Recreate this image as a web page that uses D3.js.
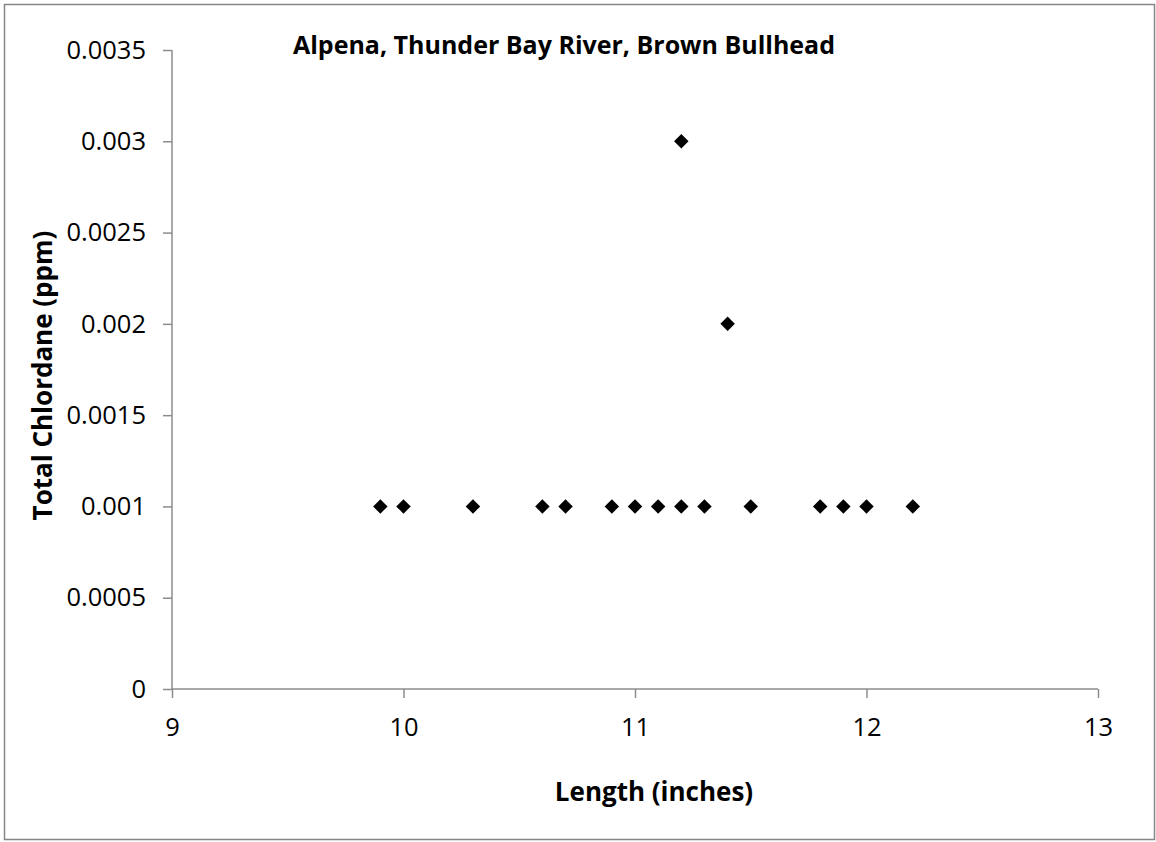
<!DOCTYPE html>
<html>
<head>
<meta charset="utf-8">
<script src="https://cdn.jsdelivr.net/npm/d3@7"></script>
<style>
  body { margin: 0; background: #fff; }
</style>
</head>
<body>
<div id="chart"></div>
<script>
// length (inches) and total chlordane (ppm)
var lengths = [9.9, 10, 10.3, 10.6, 10.7, 10.9, 11, 11.1, 11.2, 11.3, 11.5, 11.8, 11.9, 12, 12.2, 11.2, 11.4];
var chlordane = [0.001, 0.001, 0.001, 0.001, 0.001, 0.001, 0.001, 0.001, 0.001, 0.001, 0.001, 0.001, 0.001, 0.001, 0.001, 0.003, 0.002];
var xTicks = [9, 10, 11, 12, 13];
var yTicks = [0, 0.0005, 0.001, 0.0015, 0.002, 0.0025, 0.003, 0.0035];

var W = 1156, H = 842;
var margin = {top: 50, right: 58, bottom: 153, left: 172};
var FONT = "'Open Sans', 'Liberation Sans', sans-serif";

var svg = d3.select("#chart").append("svg")
    .attr("width", W)
    .attr("height", H);

// outer chart border
svg.append("rect")
    .attr("x", 4.5).attr("y", 4.5)
    .attr("width", W - 6).attr("height", H - 7)
    .attr("fill", "#fff")
    .attr("stroke", "#868686")
    .attr("stroke-width", 1.5);

var x = d3.scaleLinear().domain([9, 13]).range([margin.left, W - margin.right]);
var y = d3.scaleLinear().domain([0, 0.0035]).range([H - margin.bottom, margin.top]);

var yAxis = svg.append("g")
    .attr("transform", "translate(" + margin.left + ",0)")
    .call(d3.axisLeft(y).tickValues(yTicks).tickSize(9).tickPadding(17)
        .tickFormat(function(d) { return d === 0 ? "0" : String(+d.toFixed(4)); }));

var xAxis = svg.append("g")
    .attr("transform", "translate(0," + (H - margin.bottom) + ")")
    .call(d3.axisBottom(x).tickValues(xTicks).tickSize(9).tickPadding(20)
        .tickFormat(d3.format("d")));

[xAxis, yAxis].forEach(function(a) {
  a.attr("font-family", FONT).attr("font-size", 25.5);
  a.selectAll("line").attr("stroke", "#8c8c8c").attr("stroke-width", 1.5);
  a.selectAll("path").remove();
  a.selectAll("text").attr("fill", "#000");
});
// axis lines without end ticks
svg.append("line")
    .attr("x1", margin.left).attr("x2", margin.left)
    .attr("y1", y(0.0035)).attr("y2", y(0))
    .attr("stroke", "#8c8c8c").attr("stroke-width", 1.5);
svg.append("line")
    .attr("x1", x(9)).attr("x2", x(13))
    .attr("y1", y(0)).attr("y2", y(0))
    .attr("stroke", "#8c8c8c").attr("stroke-width", 1.5);

// diamond markers
var diamond = d3.symbol().type(d3.symbolSquare).size(105);
svg.append("g").selectAll("path")
    .data(lengths.map(function(d, i) { return {x: d, y: chlordane[i]}; }))
    .enter().append("path")
    .attr("d", diamond)
    .attr("transform", function(d) {
      return "translate(" + x(d.x) + "," + y(d.y) + ") rotate(45)";
    })
    .attr("fill", "#000");

// title
svg.append("text")
    .attr("x", 564).attr("y", 54)
    .attr("text-anchor", "middle")
    .attr("font-family", FONT)
    .attr("font-size", 25).attr("font-weight", "bold")
    .text("Alpena, Thunder Bay River, Brown Bullhead");

// axis titles
svg.append("text")
    .attr("x", 654).attr("y", 801)
    .attr("text-anchor", "middle")
    .attr("font-family", FONT)
    .attr("font-size", 26).attr("font-weight", "bold")
    .text("Length (inches)");

svg.append("text")
    .attr("transform", "translate(52," + ((y(0) + y(0.0035)) / 2 + 6) + ") rotate(-90)")
    .attr("text-anchor", "middle")
    .attr("font-family", FONT)
    .attr("font-size", 26).attr("font-weight", "bold")
    .text("Total Chlordane (ppm)");
</script>
</body>
</html>
